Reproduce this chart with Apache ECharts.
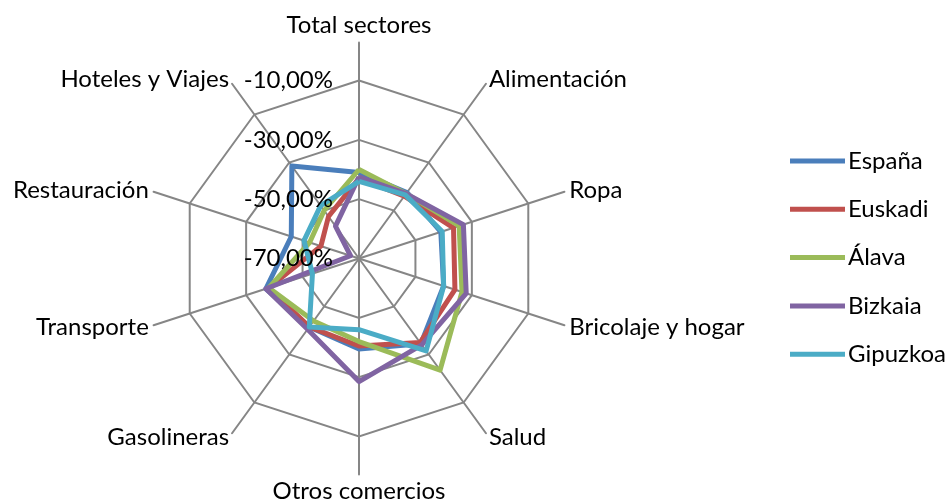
<!DOCTYPE html>
<html>
<head>
<meta charset="utf-8">
<script src="https://cdn.jsdelivr.net/npm/echarts@6/dist/echarts.min.js"></script>
<style>
  html, body { margin: 0; padding: 0; background: #fff; }
  #chart { width: 949px; height: 504px; }
</style>
</head>
<body>
<div id="chart"></div>
<script>
// sectores en el sentido de las agujas del reloj, empezando arriba
const sectores = ['Total sectores', 'Alimentación', 'Ropa', 'Bricolaje y hogar', 'Salud', 'Otros comercios', 'Gasolineras', 'Transporte', 'Restauración', 'Hoteles y Viajes']
const espana = [-41, -42.5, -41, -40, -34.5, -39.5, -41.5, -37, -46, -31.5]
const euskadi = [-43, -44, -36.5, -36, -35, -40.5, -41.5, -38, -56.5, -52.5]
const alava = [-40, -43, -34.5, -33.5, -23.5, -42, -44, -38, -52.5, -50]
const bizkaia = [-42.5, -43, -33, -32, -34, -28.5, -40.5, -37, -67, -56.5]
const gipuzkoa = [-44, -43.5, -40.5, -40, -31.5, -46, -41.5, -53.5, -50.5, -48]
// anillos del eje
const anillos = [-70, -50, -30, -10]
const zonas = ['España', 'Euskadi', 'Álava', 'Bizkaia', 'Gipuzkoa']
const colores = ['#4a7ebb', '#c0504d', '#9bbb59', '#8064a2', '#4bacc6']

// echarts pone los ejes en sentido antihorario
const orden = arr => [arr[0]].concat(arr.slice(1).reverse())

const fuente = 'Lato'
const tam = 24
const centro = [359, 258.5]
const min = anillos[0]
const max = anillos[anillos.length - 1]
const rejilla = { color: '#868686', width: 2 }

const chart = echarts.init(document.getElementById('chart'))
const option = {
  animation: false,
  color: colores,
  legend: {
    orient: 'vertical',
    left: 790,
    top: 149,
    padding: 0,
    itemGap: 24.3,
    itemWidth: 55,
    itemHeight: 5,
    icon: 'rect',
    data: zonas,
    textStyle: { fontFamily: fuente, fontSize: tam, color: '#000', padding: [0, 0, 0, -2] }
  },
  radar: [
    {
      // radios largos y nombres
      center: centro,
      radius: 216,
      shape: 'polygon',
      splitNumber: 1,
      nameGap: 5,
      axisName: { color: '#000', fontFamily: fuente, fontSize: tam },
      axisLine: { lineStyle: rejilla },
      splitLine: { show: false },
      splitArea: { show: false },
      indicator: orden(sectores).map(s => ({ name: s, min: min, max: max }))
    },
    {
      // anillos
      center: centro,
      radius: 178,
      shape: 'polygon',
      splitNumber: anillos.length - 1,
      axisName: { show: false },
      axisLine: { show: false },
      splitLine: { lineStyle: rejilla },
      splitArea: { show: false },
      axisLabel: { show: false },
      indicator: orden(sectores).map(s => ({ name: s, min: min, max: max }))
    },
    {
      // valores del eje, por encima de las líneas
      z: 5,
      center: centro,
      radius: 178,
      shape: 'polygon',
      splitNumber: anillos.length - 1,
      axisName: { show: false },
      axisLine: { show: false },
      splitLine: { show: false },
      splitArea: { show: false },
      axisLabel: { show: false },
      indicator: orden(sectores).map((s, i) => ({
        name: s,
        min: min,
        max: max,
        axisLabel: i === 0 ? {
          show: true,
          color: '#000',
          fontFamily: fuente,
          fontSize: tam,
          margin: 26,
          formatter: v => v.toFixed(2).replace('.', ',') + '%'
        } : { show: false }
      }))
    }
  ],
  series: [
    {
      type: 'radar',
      radarIndex: 1,
      symbol: 'none',
      data: [espana, euskadi, alava, bizkaia, gipuzkoa].map((vals, i) => ({
        name: zonas[i],
        value: orden(vals),
        lineStyle: { color: colores[i], width: 5 },
        itemStyle: { color: colores[i] }
      }))
    }
  ]
}
chart.setOption(option)
</script>
</body>
</html>
